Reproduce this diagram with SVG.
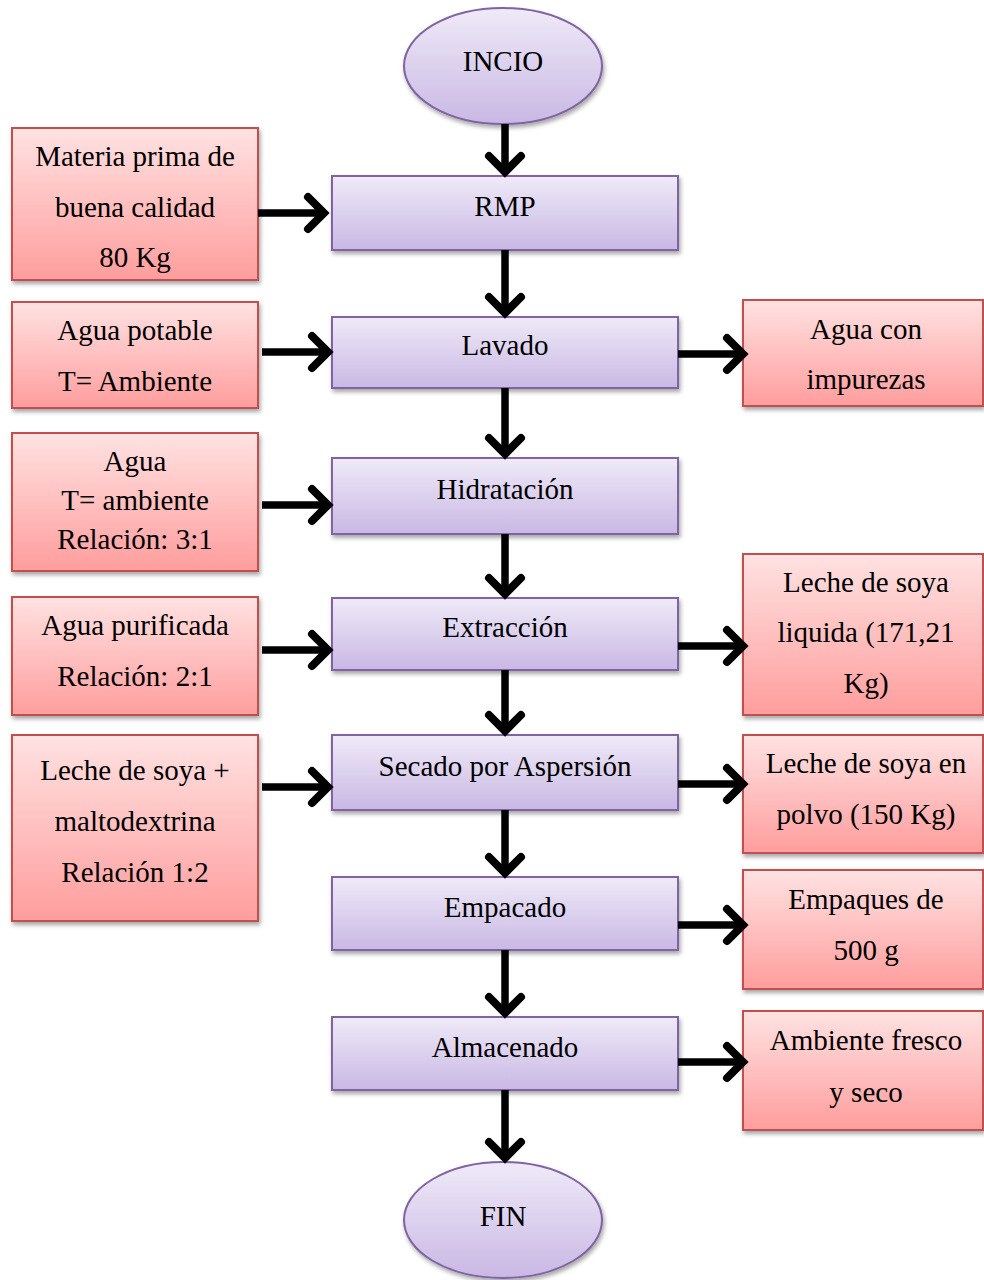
<svg xmlns="http://www.w3.org/2000/svg" width="984" height="1280" viewBox="0 0 984 1280">
  <defs>
    <linearGradient id="gPurple" x1="0" y1="0" x2="0" y2="1">
      <stop offset="0" stop-color="#efeaf8"/>
      <stop offset="1" stop-color="#c9b8e4"/>
    </linearGradient>
    <linearGradient id="gRed" x1="0" y1="0" x2="0" y2="1">
      <stop offset="0" stop-color="#ffe2e2"/>
      <stop offset="1" stop-color="#ff9d9d"/>
    </linearGradient>
    <filter id="shadow" x="-10%" y="-10%" width="120%" height="130%">
      <feDropShadow dx="1.5" dy="3" stdDeviation="2" flood-color="#000" flood-opacity="0.35"/>
    </filter>
    <marker id="chev" markerUnits="userSpaceOnUse" viewBox="-26 -22 32 44" refX="0" refY="0" markerWidth="32" markerHeight="44" orient="auto" overflow="visible">
      <path d="M-18,-16 L-2,0 L-18,16" fill="none" stroke="#000" stroke-width="8" stroke-linecap="round" stroke-linejoin="miter"/>
    </marker>
    <style>
      .proc { fill: url(#gPurple); stroke: #8064a2; stroke-width: 2; filter: url(#shadow); }
      .side { fill: url(#gRed); stroke: #c0504d; stroke-width: 2; filter: url(#shadow); }
      text { font-family: "Liberation Serif", "Times New Roman", serif; font-size: 29px; fill: #000; text-anchor: middle; dominant-baseline: central; }
      .arrow { fill: none; stroke: #000; stroke-width: 7.5; marker-end: url(#chev); }
    </style>
  </defs>

  <!-- main process column -->
  <g id="inicio">
    <ellipse class="proc" cx="503" cy="66" rx="99" ry="58"/>
    <text x="503" y="61">INCIO</text>
  </g>
  <g id="rmp">
    <rect class="proc" x="332" y="176" width="346" height="74"/>
    <text x="505" y="206">RMP</text>
  </g>
  <g id="lavado">
    <rect class="proc" x="332" y="317" width="346" height="71"/>
    <text x="505" y="345">Lavado</text>
  </g>
  <g id="hidratacion">
    <rect class="proc" x="332" y="458" width="346" height="76"/>
    <text x="505" y="489">Hidratación</text>
  </g>
  <g id="extraccion">
    <rect class="proc" x="332" y="598" width="346" height="72"/>
    <text x="505" y="627">Extracción</text>
  </g>
  <g id="secado">
    <rect class="proc" x="332" y="735" width="346" height="75"/>
    <text x="505" y="766">Secado por Aspersión</text>
  </g>
  <g id="empacado">
    <rect class="proc" x="332" y="877" width="346" height="73"/>
    <text x="505" y="907">Empacado</text>
  </g>
  <g id="almacenado">
    <rect class="proc" x="332" y="1017" width="346" height="73"/>
    <text x="505" y="1047">Almacenado</text>
  </g>
  <g id="fin">
    <ellipse class="proc" cx="503" cy="1220" rx="99" ry="58"/>
    <text x="503" y="1216">FIN</text>
  </g>

  <!-- inputs (left) -->
  <g id="in-materia">
    <rect class="side" x="12" y="128" width="246" height="152"/>
    <text x="135" y="156">Materia prima de</text>
    <text x="135" y="207">buena calidad</text>
    <text x="135" y="257">80 Kg</text>
  </g>
  <g id="in-agua-potable">
    <rect class="side" x="12" y="302" width="246" height="106"/>
    <text x="135" y="330">Agua potable</text>
    <text x="135" y="381">T= Ambiente</text>
  </g>
  <g id="in-agua">
    <rect class="side" x="12" y="433" width="246" height="138"/>
    <text x="135" y="461">Agua</text>
    <text x="135" y="500">T= ambiente</text>
    <text x="135" y="539">Relación: 3:1</text>
  </g>
  <g id="in-agua-purificada">
    <rect class="side" x="12" y="597" width="246" height="118"/>
    <text x="135" y="625">Agua purificada</text>
    <text x="135" y="676">Relación: 2:1</text>
  </g>
  <g id="in-mezcla">
    <rect class="side" x="12" y="735" width="246" height="186"/>
    <text x="135" y="770">Leche de soya +</text>
    <text x="135" y="821">maltodextrina</text>
    <text x="135" y="872">Relación 1:2</text>
  </g>

  <!-- outputs (right) -->
  <g id="out-impurezas">
    <rect class="side" x="743" y="300" width="240" height="106"/>
    <text x="866" y="329">Agua con</text>
    <text x="866" y="379">impurezas</text>
  </g>
  <g id="out-liquida">
    <rect class="side" x="743" y="554" width="240" height="161"/>
    <text x="866" y="582">Leche de soya</text>
    <text x="866" y="632">liquida (171,21</text>
    <text x="866" y="683">Kg)</text>
  </g>
  <g id="out-polvo">
    <rect class="side" x="743" y="735" width="240" height="118"/>
    <text x="866" y="763">Leche de soya en</text>
    <text x="866" y="814">polvo (150 Kg)</text>
  </g>
  <g id="out-empaques">
    <rect class="side" x="743" y="870" width="240" height="119"/>
    <text x="866" y="899">Empaques de</text>
    <text x="866" y="950">500 g</text>
  </g>
  <g id="out-ambiente">
    <rect class="side" x="743" y="1011" width="240" height="119"/>
    <text x="866" y="1040">Ambiente fresco</text>
    <text x="866" y="1092">y seco</text>
  </g>

  <!-- connectors -->
  <g id="connectors">
    <path class="arrow" d="M505,124 L505,174"/>
    <path class="arrow" d="M505,250 L505,315"/>
    <path class="arrow" d="M505,388 L505,456"/>
    <path class="arrow" d="M505,534 L505,596"/>
    <path class="arrow" d="M505,670 L505,733"/>
    <path class="arrow" d="M505,810 L505,875"/>
    <path class="arrow" d="M505,950 L505,1015"/>
    <path class="arrow" d="M505,1090 L505,1160"/>

    <path class="arrow" d="M258,213 L326,213"/>
    <path class="arrow" d="M262,352 L330,352"/>
    <path class="arrow" d="M262,505 L330,505"/>
    <path class="arrow" d="M262,650 L330,650"/>
    <path class="arrow" d="M262,787 L330,787"/>

    <path class="arrow" d="M678,354 L745,354"/>
    <path class="arrow" d="M678,646 L745,646"/>
    <path class="arrow" d="M678,784 L745,784"/>
    <path class="arrow" d="M678,925 L745,925"/>
    <path class="arrow" d="M678,1062 L745,1062"/>
  </g>
</svg>
